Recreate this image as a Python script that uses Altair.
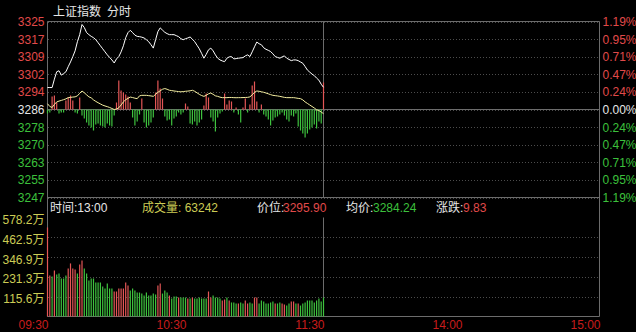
import altair as alt
import pandas as pd

# ---------------- data ----------------
prev_close = 3286.07
minutes = list(range(121))  # 09:30 .. 11:30, one point per minute

price = [
    3295.80, 3295.80, 3295.80, 3299.52, 3302.79, 3303.24, 3301.31, 3301.98, 3302.79, 3305.03,
    3307.14, 3309.52, 3312.07, 3316.11, 3319.24, 3323.73, 3322.38, 3320.14, 3319.24, 3318.48,
    3317.90, 3317.00, 3315.66, 3314.31, 3312.97, 3311.62, 3310.28, 3309.16, 3308.04, 3306.69,
    3308.49, 3309.52, 3311.62, 3314.31, 3317.90, 3320.14, 3321.17, 3320.14, 3319.02, 3318.48,
    3318.35, 3318.12, 3317.76, 3317.00, 3316.11, 3314.76, 3313.28, 3317.00, 3320.59, 3322.25,
    3321.26, 3320.28, 3319.69, 3319.24, 3319.24, 3319.24, 3318.80, 3318.35, 3317.45, 3317.00,
    3317.45, 3317.76, 3318.21, 3317.23, 3316.11, 3314.54, 3312.97, 3310.95, 3308.80, 3310.50,
    3312.52, 3313.28, 3312.07, 3310.28, 3308.80, 3308.04, 3307.59, 3307.27, 3308.80, 3309.38,
    3309.52, 3308.49, 3308.62, 3308.80, 3308.93, 3309.07, 3309.83, 3310.28, 3309.52, 3311.62,
    3313.86, 3315.97, 3315.21, 3314.76, 3313.42, 3312.74, 3312.30, 3311.76, 3310.73, 3309.52,
    3309.16, 3308.80, 3309.38, 3309.83, 3308.80, 3308.26, 3307.72, 3308.04, 3308.04, 3307.72,
    3307.14, 3306.56, 3305.12, 3303.55, 3302.66, 3301.76, 3301.09, 3299.97, 3299.07, 3297.28,
    3295.90,
]

avg = [
    3288.63, 3287.41, 3286.97, 3288.31, 3289.43, 3289.79, 3290.10, 3290.42, 3290.78, 3291.32,
    3291.45, 3291.58, 3291.67, 3292.12, 3293.24, 3294.27, 3293.47, 3292.57, 3291.67, 3291.23,
    3290.33, 3289.66, 3289.07, 3288.54, 3288.00, 3287.64, 3287.33, 3286.97, 3286.52, 3286.07,
    3286.29, 3286.83, 3288.09, 3289.43, 3290.42, 3291.00, 3291.58, 3291.36, 3291.09, 3290.87,
    3292.12, 3292.35, 3292.35, 3292.35, 3292.21, 3292.08, 3291.90, 3292.79, 3293.69, 3294.36,
    3295.04, 3295.35, 3295.04, 3294.59, 3294.45, 3294.27, 3294.14, 3294.00, 3293.92, 3294.00,
    3294.14, 3294.23, 3294.36, 3294.59, 3294.14, 3293.47, 3292.79, 3292.26, 3291.90, 3292.35,
    3293.02, 3293.38, 3292.79, 3292.12, 3291.90, 3291.54, 3291.32, 3291.32, 3291.32, 3291.40,
    3291.40, 3291.32, 3291.28, 3291.32, 3291.32, 3291.36, 3291.40, 3291.45, 3291.67, 3292.57,
    3293.69, 3294.27, 3294.14, 3293.92, 3293.69, 3293.38, 3293.02, 3292.66, 3292.35, 3292.21,
    3292.08, 3291.90, 3291.67, 3291.45, 3291.32, 3291.32, 3291.32, 3291.32, 3291.18, 3291.00,
    3290.87, 3290.33, 3289.43, 3288.76, 3288.09, 3287.41, 3286.74, 3285.94, 3285.62, 3284.95,
    3284.24,
]

# red (+) / green (-) strength bars of the upper panel
power = [
    -4, -3, 13, 14, 7, -4, -3, -3, 9, 12,
    14, 9, -3, -4, 12, -6, -9, -13, -16, -18,
    -21, -15, -14, -16, -17, -18, -14, -16, -17, -6,
    7, 29, 19, 17, 15, 13, 7, -8, -16, -12,
    -5, 11, -13, -18, -16, -13, -8, 17, 29, 21,
    11, -7, -11, -10, -16, -9, -7, -3, -5, -3,
    6, 3, -14, -15, -12, -16, -13, -10, 4, 16,
    12, -8, -12, -22, -8, -4, -2, 16, 5, 9,
    8, -3, 2, -5, -13, 2, 11, -3, 5, 24,
    28, 8, -3, 5, -5, -7, -10, -16, -11, -8,
    -7, -5, -3, -6, -10, -12, -6, -7, -4, -17,
    -21, -24, -28, -24, -20, -18, -15, -19, -12, -14,
    27,
]

# volume per minute, in 万
volume = [
    520, 239, 234, 269, 245, 251, 222, 222, 239, 280,
    310, 280, 274, 251, 304, 327, 280, 251, 210, 222,
    222, 199, 199, 199, 175, 164, 193, 164, 164, 146,
    146, 164, 164, 164, 199, 181, 152, 164, 152, 140,
    140, 134, 123, 140, 123, 123, 134, 128, 181, 193,
    134, 152, 140, 123, 105, 117, 117, 111, 111, 111,
    111, 105, 105, 111, 105, 105, 111, 105, 105, 105,
    146, 111, 123, 111, 111, 105, 93, 99, 111, 93,
    82, 82, 76, 76, 82, 76, 93, 76, 82, 76,
    111, 111, 76, 93, 88, 76, 76, 82, 88, 76,
    76, 82, 76, 70, 64, 76, 88, 88, 76, 76,
    64, 76, 82, 93, 93, 93, 82, 93, 105, 88,
    111,
]

vol_up = [
    1, 1, 0, 1, 0, 0, 0, 0, 0, 1,
    1, 1, 1, 0, 1, 1, 0, 0, 0, 0,
    0, 0, 0, 0, 0, 0, 0, 0, 0, 1,
    1, 1, 1, 1, 1, 1, 0, 0, 0, 0,
    0, 0, 0, 0, 0, 0, 0, 0, 1, 1,
    0, 0, 0, 1, 0, 0, 0, 1, 0, 0,
    0, 1, 0, 1, 0, 0, 0, 0, 0, 0,
    1, 1, 0, 0, 0, 0, 1, 1, 0, 1,
    0, 0, 0, 1, 0, 0, 1, 1, 0, 0,
    1, 1, 0, 0, 0, 0, 0, 0, 0, 1,
    0, 0, 1, 1, 0, 0, 1, 1, 0, 1,
    0, 0, 0, 0, 0, 0, 0, 0, 0, 0,
    0,
]

price_ticks = [3247.07, 3254.87, 3262.67, 3270.47, 3278.27, 3286.07,
               3293.87, 3301.67, 3309.47, 3317.27, 3325.07]
pct_ticks = [-1.19, -0.95, -0.71, -0.47, -0.24, 0.0, 0.24, 0.47, 0.71, 0.95, 1.19]
vol_ticks = [115.6, 231.3, 346.9, 462.5, 578.2]
time_ticks = [0, 60, 120, 180, 240]
time_labels = ["09:30", "10:30", "11:30", "14:00", "15:00"]

title_name = "上证指数"
title_kind = "分时"
info_time = "13:00"
info_volume = "63242"
info_price = "3295.90"
info_avg = "3284.24"
info_change = "9.83"

# ---------------- styling ----------------
FONT = "Liberation Sans, Noto Sans CJK SC"
RED_BAR = "#e45656"
GREEN_BAR = "#3ec23e"
RED_TXT = "#e04a4a"
GREEN_TXT = "#3cc03c"
WHITE_TXT = "#e6e6e6"
YELLOW_TXT = "#cccc55"
TIME_TXT = "#c81c1c"
FRAME = "#6c6c6c"
GRID = "#4c4c4c"

df = pd.DataFrame({"minute": minutes, "price": price, "avg": avg,
                   "power": power, "volume": volume, "up": vol_up})

XS = alt.Scale(domain=[0, 240], range=[47.5, 599.5], nice=False, zero=False)
PRICE = alt.Scale(domain=[price_ticks[0], price_ticks[-1]], range=[197.5, 21.5], nice=False, zero=False)
PCT = alt.Scale(domain=[-1.1875, 1.1875], range=[197.5, 21.5], nice=False, zero=False)
POWER = alt.Scale(domain=[-88, 88], range=[197.5, 21.5], nice=False, zero=False)
VOL = alt.Scale(domain=[0, vol_ticks[-1]], range=[316.5, 217.5], nice=False, zero=False)

x_plain = alt.X("minute:Q", scale=XS, axis=None)

price_axis = alt.Axis(
    orient="left", offset=-47, values=price_ticks, format=".0f",
    labelColor={"condition": [{"test": "datum.value > 3287", "value": RED_TXT},
                              {"test": "datum.value < 3285", "value": GREEN_TXT}],
                "value": WHITE_TXT},
    labelFont=FONT, labelFontSize=12, labelPadding=3, labelFlush=False, labelOverlap=False,
    ticks=False, tickSize=0, domain=False, grid=True, gridColor=GRID, gridDash=[1, 2],
    gridWidth=1, title=None,
)

pct_axis = alt.Axis(
    orient="right", offset=-37, values=pct_ticks,
    labelExpr="format(abs(datum.value), '.2f') + '%'",
    labelColor={"condition": [{"test": "datum.value > 0.01", "value": RED_TXT},
                              {"test": "datum.value < -0.01", "value": GREEN_TXT}],
                "value": WHITE_TXT},
    labelFont=FONT, labelFontSize=12, labelPadding=3, labelFlush=False, labelOverlap=False,
    ticks=False, tickSize=0, domain=False, grid=False, title=None,
)

vol_axis = alt.Axis(
    orient="left", offset=-47, values=vol_ticks,
    labelExpr="format(datum.value, '.1f') + '万'",
    labelColor=YELLOW_TXT, labelFont=FONT, labelFontSize=12, labelPadding=3,
    labelFlush=False, labelOverlap=False, labelOffset=2,
    ticks=False, tickSize=0, domain=False, grid=True, gridColor=GRID, gridDash=[1, 2],
    gridWidth=1, gridOpacity={"condition": {"test": "datum.value > 500", "value": 0}, "value": 1},
    title=None,
)

base = alt.Chart(df)

# invisible carrier of the price axis and its grid
axis_carrier = base.mark_line(opacity=0).encode(
    x=x_plain,
    y=alt.Y("price:Q", scale=PRICE, axis=price_axis),
)

# time labels under the volume panel, placed through the x scale (right-aligned at each tick)
time_text = alt.Chart(pd.DataFrame({"t": time_ticks, "lab": time_labels})).mark_text(
    align="right", baseline="middle", font=FONT, fontSize=12, color=TIME_TXT, dx=1
).encode(x=alt.X("t:Q", scale=XS, axis=None), y=alt.value(325), text="lab:N")

# frame lines
h_price = alt.Chart(pd.DataFrame({"p": [price_ticks[0], price_ticks[-1]]})).mark_rule(
    color=FRAME, strokeWidth=1).encode(
    y=alt.Y("p:Q", scale=PRICE, axis=None),
    x=alt.XDatum(0, type="quantitative", scale=XS, axis=None),
    x2=alt.X2Datum(240),
)
zero_line = alt.Chart(pd.DataFrame({"pct": [0.0]})).mark_rule(
    color=FRAME, strokeWidth=1).encode(
    y=alt.Y("pct:Q", scale=PCT, axis=pct_axis),
    x=alt.XDatum(0, type="quantitative", scale=XS, axis=None),
    x2=alt.X2Datum(240),
)
h_vol = alt.Chart(pd.DataFrame({"v": [0.0]})).mark_rule(color=FRAME, strokeWidth=1).encode(
    y=alt.Y("v:Q", scale=VOL, axis=None),
    x=alt.XDatum(0, type="quantitative", scale=XS, axis=None),
    x2=alt.X2Datum(240),
)
v_outer = alt.Chart(pd.DataFrame({"m": [0, 240]})).mark_rule(color=FRAME, strokeWidth=1).encode(
    x=alt.X("m:Q", scale=XS, axis=None),
    y=alt.value(21.5), y2=alt.value(316.5),
)
v_mid_price = alt.Chart(pd.DataFrame({"m": [120]})).mark_rule(color=FRAME, strokeWidth=1).encode(
    x=alt.X("m:Q", scale=XS, axis=None),
    y=alt.YDatum(price_ticks[0], type="quantitative", scale=PRICE, axis=None),
    y2=alt.Y2Datum(price_ticks[-1]),
)
v_mid_vol = alt.Chart(pd.DataFrame({"m": [120]})).mark_rule(color=FRAME, strokeWidth=1).encode(
    x=alt.X("m:Q", scale=XS, axis=None),
    y=alt.YDatum(0, type="quantitative", scale=VOL, axis=None),
    y2=alt.Y2Datum(vol_ticks[-1]),
)

power_bars = base.mark_rule(strokeWidth=1.2).encode(
    x=x_plain,
    y=alt.Y("power:Q", scale=POWER, axis=None),
    y2=alt.Y2Datum(0),
    color=alt.condition("datum.power > 0", alt.value(RED_BAR), alt.value(GREEN_BAR)),
)

avg_line = base.mark_line(color="#f4eea0", strokeWidth=1).encode(
    x=x_plain, y=alt.Y("avg:Q", scale=PRICE, axis=None))

price_line = base.mark_line(color="#ffffff", strokeWidth=1).encode(
    x=x_plain, y=alt.Y("price:Q", scale=PRICE, axis=None))

vol_bars = base.mark_rule(strokeWidth=1.2).encode(
    x=x_plain,
    y=alt.Y("volume:Q", scale=VOL, axis=vol_axis),
    y2=alt.Y2Datum(0),
    color=alt.condition("datum.up == 1", alt.value(RED_BAR), alt.value(GREEN_BAR)),
)


def label(text, x, y, color):
    return alt.Chart(pd.DataFrame({"t": [text]})).mark_text(
        align="left", baseline="middle", font=FONT, fontSize=12, color=color
    ).encode(x=alt.value(x), y=alt.value(y), text="t:N")


texts = [
    label(title_name, 53, 12, WHITE_TXT),
    label(title_kind, 107, 12, WHITE_TXT),
    label("时间:" + info_time, 50, 208, WHITE_TXT),
    label("成交量: " + info_volume, 142, 208, YELLOW_TXT),
    label("价位:", 257, 208, WHITE_TXT),
    label(info_price, 283, 208, RED_TXT),
    label("均价:", 346, 208, WHITE_TXT),
    label(info_avg, 373, 208, GREEN_TXT),
    label("涨跌:", 436, 208, WHITE_TXT),
    label(info_change, 463, 208, RED_TXT),
]

chart = alt.layer(
    axis_carrier,
    h_price, zero_line, h_vol, v_outer, v_mid_price, v_mid_vol,
    power_bars, vol_bars, avg_line, price_line,
    time_text,
    *texts,
).resolve_scale(y="independent").properties(
    width=636, height=332,
    padding=0,
    autosize=alt.AutoSizeParams(type="none"),
    background="#000000",
).configure_view(strokeWidth=0)

chart.save("out.html", embed_options={"renderer": "svg", "actions": False})
